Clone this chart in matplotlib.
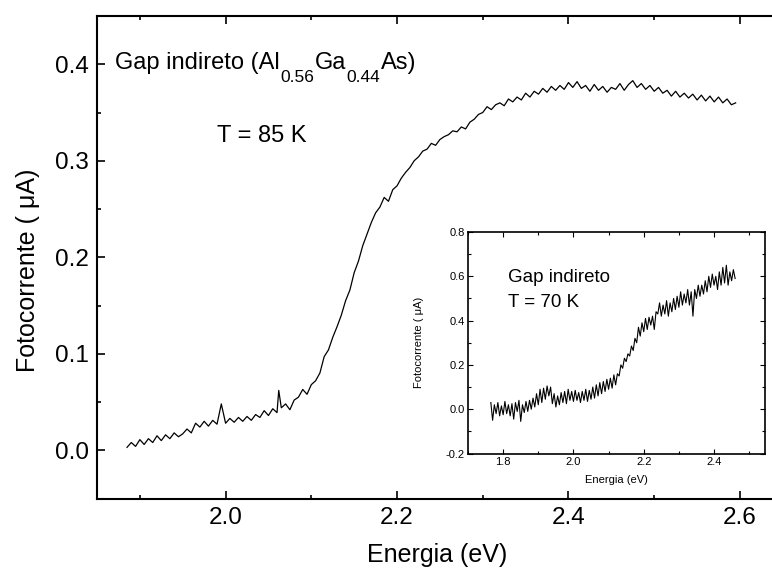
import matplotlib
matplotlib.use("Agg")
import matplotlib.pyplot as plt
from matplotlib.ticker import MultipleLocator

plt.rcParams['font.family'] = ['Liberation Sans', 'DejaVu Sans']

# ---- main spectrum (T = 85 K) ----
energy_main = [
    1.885, 1.890, 1.895, 1.900, 1.905, 1.910, 1.915, 1.920, 1.925, 1.930,
    1.935, 1.940, 1.945, 1.950, 1.955, 1.960, 1.965, 1.970, 1.975, 1.980,
    1.985, 1.990, 1.995, 2.000, 2.005, 2.010, 2.015, 2.020, 2.025, 2.030,
    2.035, 2.040, 2.045, 2.050, 2.055, 2.060, 2.062, 2.065, 2.070, 2.075,
    2.080, 2.085, 2.090, 2.095, 2.100, 2.105, 2.110, 2.115, 2.120, 2.125,
    2.130, 2.135, 2.140, 2.145, 2.150, 2.155, 2.160, 2.165, 2.170, 2.175,
    2.180, 2.185, 2.190, 2.195, 2.200, 2.205, 2.210, 2.215, 2.220, 2.225,
    2.230, 2.235, 2.240, 2.245, 2.250, 2.255, 2.260, 2.265, 2.270, 2.275,
    2.280, 2.285, 2.290, 2.295, 2.300, 2.305, 2.310, 2.315, 2.320, 2.325,
    2.330, 2.335, 2.340, 2.345, 2.350, 2.355, 2.360, 2.365, 2.370, 2.375,
    2.380, 2.385, 2.390, 2.395, 2.400, 2.405, 2.410, 2.415, 2.420, 2.425,
    2.430, 2.435, 2.440, 2.445, 2.450, 2.455, 2.460, 2.465, 2.470, 2.475,
    2.480, 2.485, 2.490, 2.495, 2.500, 2.505, 2.510, 2.515, 2.520, 2.525,
    2.530, 2.535, 2.540, 2.545, 2.550, 2.555, 2.560, 2.565, 2.570, 2.575,
    2.580, 2.585, 2.590, 2.595,
]
current_main = [
    0.003, 0.008, 0.004, 0.011, 0.006, 0.012, 0.008, 0.015, 0.010, 0.016,
    0.012, 0.018, 0.014, 0.017, 0.022, 0.018, 0.028, 0.024, 0.030, 0.025,
    0.031, 0.027, 0.048, 0.028, 0.033, 0.029, 0.034, 0.030, 0.035, 0.031,
    0.037, 0.034, 0.041, 0.036, 0.043, 0.039, 0.062, 0.044, 0.048, 0.042,
    0.052, 0.055, 0.063, 0.058, 0.068, 0.072, 0.080, 0.097, 0.104, 0.117,
    0.128, 0.140, 0.155, 0.166, 0.184, 0.196, 0.212, 0.224, 0.236, 0.246,
    0.252, 0.262, 0.258, 0.270, 0.274, 0.282, 0.288, 0.293, 0.300, 0.304,
    0.310, 0.312, 0.318, 0.316, 0.322, 0.325, 0.327, 0.331, 0.330, 0.335,
    0.333, 0.340, 0.343, 0.348, 0.350, 0.356, 0.353, 0.358, 0.360, 0.357,
    0.364, 0.361, 0.366, 0.363, 0.370, 0.366, 0.372, 0.369, 0.375, 0.371,
    0.377, 0.373, 0.378, 0.374, 0.381, 0.376, 0.382, 0.375, 0.378, 0.372,
    0.379, 0.373, 0.377, 0.371, 0.376, 0.374, 0.380, 0.373, 0.379, 0.383,
    0.376, 0.380, 0.374, 0.378, 0.372, 0.376, 0.370, 0.373, 0.367, 0.372,
    0.366, 0.370, 0.365, 0.369, 0.363, 0.368, 0.362, 0.367, 0.361, 0.366,
    0.360, 0.364, 0.358, 0.360,
]

# ---- inset spectrum (T = 70 K) ----
energy_inset = [
    1.765, 1.770, 1.775, 1.780, 1.785, 1.790, 1.795, 1.800, 1.805, 1.810,
    1.815, 1.820, 1.825, 1.830, 1.835, 1.840, 1.845, 1.850, 1.855, 1.860,
    1.865, 1.870, 1.875, 1.880, 1.885, 1.890, 1.895, 1.900, 1.905, 1.910,
    1.915, 1.920, 1.925, 1.930, 1.935, 1.940, 1.945, 1.950, 1.955, 1.960,
    1.965, 1.970, 1.975, 1.980, 1.985, 1.990, 1.995, 2.000, 2.005, 2.010,
    2.015, 2.020, 2.025, 2.030, 2.035, 2.040, 2.045, 2.050, 2.055, 2.060,
    2.065, 2.070, 2.075, 2.080, 2.085, 2.090, 2.095, 2.100, 2.105, 2.110,
    2.115, 2.120, 2.125, 2.130, 2.135, 2.140, 2.145, 2.150, 2.155, 2.160,
    2.165, 2.170, 2.175, 2.180, 2.185, 2.190, 2.195, 2.200, 2.205, 2.210,
    2.215, 2.220, 2.225, 2.230, 2.235, 2.240, 2.245, 2.250, 2.255, 2.260,
    2.265, 2.270, 2.275, 2.280, 2.285, 2.290, 2.295, 2.300, 2.305, 2.310,
    2.315, 2.320, 2.325, 2.330, 2.335, 2.340, 2.345, 2.350, 2.355, 2.360,
    2.365, 2.370, 2.375, 2.380, 2.385, 2.390, 2.395, 2.400, 2.405, 2.410,
    2.415, 2.420, 2.425, 2.430, 2.435, 2.440, 2.445, 2.450, 2.455, 2.460,
]
current_inset = [
    0.030, -0.050, 0.020, -0.020, 0.030, -0.030, 0.015, -0.025, 0.035, -0.020,
    0.020, -0.030, 0.025, -0.045, 0.030, -0.010, 0.040, -0.055, 0.020, -0.015,
    0.035, -0.010, 0.040, 0.000, 0.050, 0.010, 0.070, 0.020, 0.090, 0.030,
    0.095, 0.045, 0.105, 0.060, 0.100, 0.025, 0.070, 0.010, 0.060, 0.020,
    0.075, 0.030, 0.080, 0.025, 0.090, 0.040, 0.080, 0.035, 0.085, 0.040,
    0.075, 0.030, 0.080, 0.040, 0.090, 0.035, 0.085, 0.045, 0.100, 0.050,
    0.110, 0.060, 0.120, 0.070, 0.125, 0.080, 0.135, 0.090, 0.140, 0.095,
    0.155, 0.110, 0.160, 0.150, 0.200, 0.185, 0.230, 0.215, 0.250, 0.240,
    0.285, 0.265, 0.320, 0.300, 0.370, 0.330, 0.390, 0.350, 0.410, 0.360,
    0.415, 0.380, 0.420, 0.360, 0.440, 0.430, 0.480, 0.420, 0.470, 0.430,
    0.490, 0.420, 0.480, 0.440, 0.500, 0.450, 0.510, 0.460, 0.530, 0.470,
    0.520, 0.480, 0.540, 0.470, 0.530, 0.420, 0.540, 0.500, 0.560, 0.510,
    0.560, 0.520, 0.580, 0.530, 0.600, 0.550, 0.610, 0.560, 0.600, 0.540,
    0.620, 0.560, 0.640, 0.570, 0.650, 0.560, 0.620, 0.580, 0.630, 0.590,
]

# title pieces: (text, is_subscript)
title_parts = [("Gap indireto (Al", False), ("0.56", True), ("Ga", False),
               ("0.44", True), ("As)", False)]

W, H = 772, 573
fig = plt.figure(figsize=(W / 100, H / 100), dpi=100)

def fx(px):
    return px / W

def fy(py):
    return 1 - py / H

# main axes (right spine lies beyond the picture edge)
ax = fig.add_axes([fx(97), fy(498.5), 685.8 / W, (498.5 - 16) / H])
ax.plot(energy_main, current_main, color='black', lw=0.9)
ax.set_xlim(1.85, 2.65)
ax.set_ylim(-0.05, 0.45)
ax.xaxis.set_major_locator(MultipleLocator(0.2))
ax.xaxis.set_minor_locator(MultipleLocator(0.1))
ax.yaxis.set_major_locator(MultipleLocator(0.1))
ax.yaxis.set_minor_locator(MultipleLocator(0.05))
ax.xaxis.set_major_formatter(plt.FuncFormatter(lambda v, p: f"{v:.1f}"))
ax.yaxis.set_major_formatter(plt.FuncFormatter(lambda v, p: f"{v:.1f}"))
ax.tick_params(which='both', direction='in', top=True, right=True,
               width=1.2, labelsize=17.5, pad=6)
ax.tick_params(which='major', length=6)
ax.tick_params(which='minor', length=3)
for s in ax.spines.values():
    s.set_linewidth(1.5)
ax.set_xlabel('Energia (eV)', fontsize=18)
ax.set_ylabel('Fotocorrente ( μA)', fontsize=18)
ax.xaxis.set_label_coords(0.496, -0.093)
ax.yaxis.set_label_coords(-0.083, 0.473)

# title with hand-placed subscripts
renderer = fig.canvas.get_renderer()
x_cur = 115.0
for txt, sub in title_parts:
    size = 12.5 if sub else 17
    ybase = 82 if sub else 69
    t = fig.text(fx(x_cur), fy(ybase), txt, fontsize=size,
                 ha='left', va='baseline')
    bb = t.get_window_extent(renderer=renderer)
    x_cur += bb.width + 0.5

fig.text(fx(217), fy(142), 'T = 85 K', fontsize=17, ha='left', va='baseline')

# inset axes
ai = fig.add_axes([fx(468), fy(453.5), 297 / W, 221.5 / H])
ai.plot(energy_inset, current_inset, color='black', lw=0.8)
ai.set_xlim(1.70, 2.545)
ai.set_ylim(-0.2, 0.8)
ai.xaxis.set_major_locator(MultipleLocator(0.2))
ai.xaxis.set_minor_locator(MultipleLocator(0.1))
ai.yaxis.set_major_locator(MultipleLocator(0.2))
ai.yaxis.set_minor_locator(MultipleLocator(0.1))
ai.xaxis.set_major_formatter(plt.FuncFormatter(lambda v, p: f"{v:.1f}"))
ai.yaxis.set_major_formatter(plt.FuncFormatter(lambda v, p: f"{v:.1f}"))
ai.tick_params(which='both', direction='in', top=True, right=True,
               width=0.8, labelsize=8, pad=2.5)
ai.tick_params(which='major', length=3.5)
ai.tick_params(which='minor', length=2)
for s in ai.spines.values():
    s.set_linewidth(1.2)
ai.set_xlabel('Energia (eV)', fontsize=8)
ai.set_ylabel('Fotocorrente ( μA)', fontsize=8)
ai.xaxis.set_label_coords(0.50, -0.095)
ai.yaxis.set_label_coords(-0.148, 0.5)

fig.text(fx(508), fy(282), 'Gap indireto', fontsize=13.5, ha='left', va='baseline')
fig.text(fx(508), fy(307), 'T = 70 K', fontsize=13.5, ha='left', va='baseline')

fig.savefig('out.png', dpi=100)
